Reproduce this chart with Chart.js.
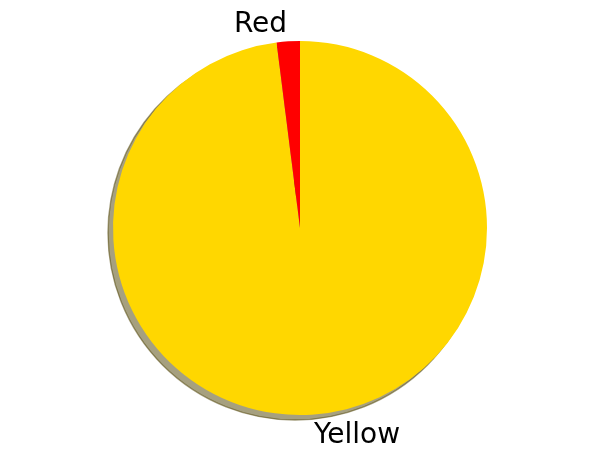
<!DOCTYPE html>
<html>
<head>
<meta charset="utf-8">
<script src="https://cdn.jsdelivr.net/npm/chart.js@4"></script>
<style>
    html, body { margin: 0; padding: 0; background: #ffffff; }
    #wrap { width: 600px; height: 458px; }
</style>
</head>
<body>
<div id="wrap"><canvas id="pieChart" width="600" height="458"></canvas></div>
<script>
// values (matplotlib order: counterclockwise from the top)
const sliceLabels = ['Red', 'Yellow'];
const sliceValues = [2, 98];
const sliceColors = ['#ff0000', '#ffd700'];

// Chart.js goes clockwise, so reverse the order to get Red just left of the top
const cjLabels = sliceLabels.slice().reverse();
const cjValues = sliceValues.slice().reverse();
const cjColors = sliceColors.slice().reverse();

function shadowColor(hex) {
    // matplotlib Shadow: rgb * 0.3, alpha 0.5
    const r = parseInt(hex.slice(1, 3), 16) * 0.3;
    const g = parseInt(hex.slice(3, 5), 16) * 0.3;
    const b = parseInt(hex.slice(5, 7), 16) * 0.3;
    return `rgba(${Math.round(r)}, ${Math.round(g)}, ${Math.round(b)}, 0.5)`;
}

const shadowPlugin = {
    id: 'pieShadow',
    beforeDatasetsDraw(chart) {
        const ctx = chart.ctx;
        const arcs = chart.getDatasetMeta(0).data;
        ctx.save();
        arcs.forEach((arc, i) => {
            const p = arc.getProps(['x', 'y', 'startAngle', 'endAngle', 'outerRadius'], true);
            const col = shadowColor(cjColors[i]);
            ctx.beginPath();
            ctx.moveTo(p.x - 5, p.y + 5);
            ctx.arc(p.x - 5, p.y + 5, p.outerRadius, p.startAngle, p.endAngle);
            ctx.closePath();
            ctx.fillStyle = col;
            ctx.fill();
            ctx.lineWidth = 1.4;
            ctx.strokeStyle = col;
            ctx.stroke();
        });
        ctx.restore();
    }
};

const labelPlugin = {
    id: 'pieLabels',
    afterDatasetsDraw(chart) {
        const ctx = chart.ctx;
        const arcs = chart.getDatasetMeta(0).data;
        ctx.save();
        ctx.font = '28px "DejaVu Sans"';
        ctx.fillStyle = '#000000';
        ctx.textBaseline = 'middle';
        arcs.forEach((arc, i) => {
            const p = arc.getProps(['x', 'y', 'startAngle', 'endAngle', 'outerRadius'], true);
            const mid = (p.startAngle + p.endAngle) / 2;
            const tx = p.x + Math.cos(mid) * p.outerRadius * 1.1;
            const ty = p.y + Math.sin(mid) * p.outerRadius * 1.1 + 2;
            ctx.textAlign = tx < p.x ? 'right' : 'left';
            ctx.fillText(cjLabels[i], tx < p.x ? tx : tx + 1, ty);
        });
        ctx.restore();
    }
};

const ctx = document.getElementById('pieChart').getContext('2d');
new Chart(ctx, {
    type: 'pie',
    data: {
        labels: cjLabels,
        datasets: [{
            data: cjValues,
            backgroundColor: cjColors,
            borderWidth: 0,
            hoverOffset: 0,
            offset: 0
        }]
    },
    options: {
        responsive: false,
        animation: false,
        events: [],
        layout: { padding: { top: 41, bottom: 43, left: 0, right: 0 } },
        plugins: {
            legend: { display: false },
            tooltip: { enabled: false }
        }
    },
    plugins: [shadowPlugin, labelPlugin]
});
</script>
</body>
</html>
